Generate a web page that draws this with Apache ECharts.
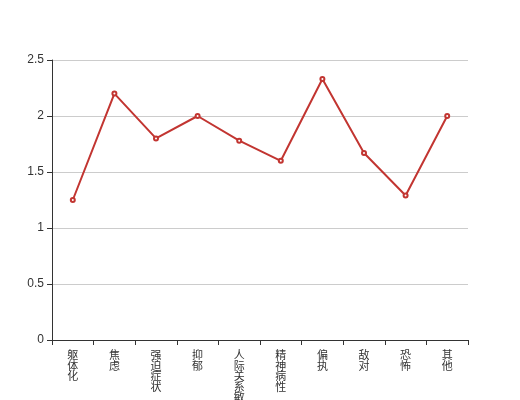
<!DOCTYPE html>
<html><head><meta charset="utf-8">
<script src="https://cdn.jsdelivr.net/npm/echarts@6/dist/echarts.min.js"></script>
<style>html,body{margin:0;padding:0;background:#fff}#c{width:520px;height:400px}</style>
</head><body><div id="c"></div>
<script>
var categories = ['躯体化','焦虑','强迫症状','抑郁','人际关系敏感','精神病性','偏执','敌对','恐怖','其他'];
var values = [1.25, 2.2, 1.8, 2.0, 1.78, 1.6, 2.33, 1.67, 1.29, 2.0];
var chart = echarts.init(document.getElementById('c'), null, {renderer:'canvas'});
chart.setOption({
  animation:false,
  grid:{left:52,right:52,top:60,bottom:60,containLabel:false,outerBoundsMode:'none'},
  xAxis:{type:'category',data:categories,boundaryGap:true,
    axisLine:{lineStyle:{color:'#333'}},
    axisTick:{show:true,lineStyle:{color:'#333'}},
    axisLabel:{color:'#333',fontSize:11,lineHeight:10.5,interval:0,margin:10,
      fontFamily:'Noto Sans CJK SC',
      formatter:function(v){return v.split('').join('\n');}}},
  yAxis:{type:'value',min:0,max:2.5,interval:0.5,
    axisLine:{show:true,lineStyle:{color:'#333'}},
    axisTick:{show:true,lineStyle:{color:'#333'}},
    axisLabel:{color:'#333',fontSize:12},
    splitLine:{lineStyle:{color:'#ccc'}}},
  series:[{type:'line',data:values,symbol:'emptyCircle',symbolSize:4,
    itemStyle:{color:'#c23531'},lineStyle:{color:'#c23531',width:2}}]
});
</script></body></html>
